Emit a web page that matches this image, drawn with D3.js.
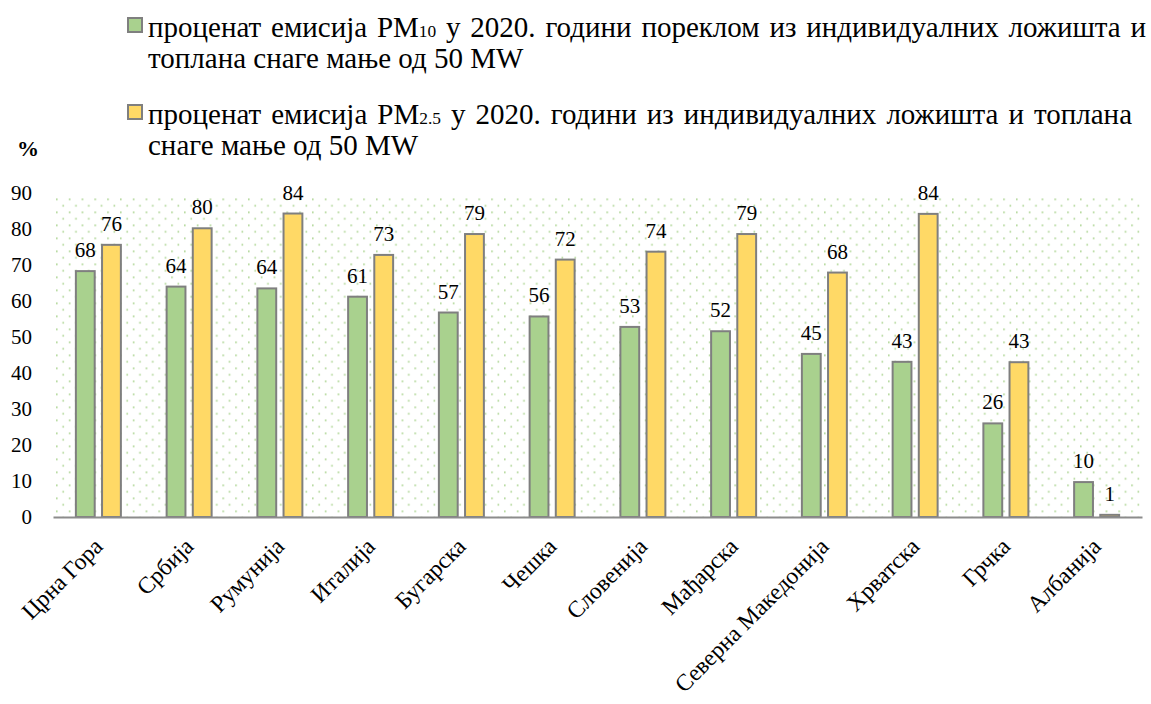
<!DOCTYPE html>
<html>
<head>
<meta charset="utf-8">
<script src="https://cdn.jsdelivr.net/npm/d3@7"></script>
<style>
  body { margin: 0; background: #fff; }
  svg { display: block; }
  text { font-family: "Liberation Serif", "Tinos", "DejaVu Serif", serif; fill: #000; }
</style>
</head>
<body>
<svg id="chart"></svg>
<script>
// values
const countries = ["Црна Гора", "Србија", "Румунија", "Италија", "Бугарска", "Чешка",
  "Словенија", "Мађарска", "Северна Македонија", "Хрватска", "Грчка", "Албанија"];
const pm10 = [68.3, 64.0, 63.5, 61.2, 56.8, 55.7, 52.8, 51.6, 45.3, 43.1, 26.0, 9.7];
const pm25 = [75.6, 80.2, 84.3, 72.8, 78.6, 71.5, 73.7, 78.6, 67.9, 84.2, 43.0, 0.6];
const seriesKeys = ["pm10", "pm25"];
const seriesColors = ["#a9d18e", "#ffd966"];
const legendLines = [
  ["проценат емисија PM{10} у 2020. години пореклом из индивидуалних ложишта и",
   "топлана снаге мање од 50 MW"],
  ["проценат емисија PM{2.5} у 2020. години из индивидуалних ложишта и топлана",
   "снаге мање од 50 MW"]
];
const yTicks = [0, 10, 20, 30, 40, 50, 60, 70, 80, 90];
const yLabel = "%";

const width = 1151, height = 704;
const plotLeft = 53, plotRight = 1142, plotTop = 193, plotBottom = 517;
const fontFamily = "'Liberation Serif', Tinos, 'DejaVu Serif', serif";

const data = countries.map((c, i) => ({country: c, pm10: pm10[i], pm25: pm25[i]}));

const svg = d3.select("#chart")
    .attr("width", width)
    .attr("height", height)
    .attr("viewBox", [0, 0, width, height])
    .style("font-family", fontFamily);

const x = d3.scaleBand(countries, [plotLeft, plotRight]);
const xs = d3.scaleBand(seriesKeys, [-22.5, 22.5]).paddingInner(0.28);
const y = d3.scaleLinear([0, 90], [plotBottom, plotTop]);
const color = d3.scaleOrdinal(seriesKeys, seriesColors);

// dotted plot background
const pat = svg.append("defs").append("pattern")
    .attr("id", "dots")
    .attr("patternUnits", "userSpaceOnUse")
    .attr("x", 56).attr("y", 198.5)
    .attr("width", 12.8).attr("height", 13);
pat.append("rect").attr("x", 0).attr("y", 0).attr("width", 1.6).attr("height", 1.6).attr("fill", "#a8d28c");
pat.append("rect").attr("x", 6.4).attr("y", 6.5).attr("width", 1.6).attr("height", 1.6).attr("fill", "#a8d28c");

svg.append("rect")
    .attr("x", 55).attr("y", 197)
    .attr("width", 1085).attr("height", plotBottom - 197)
    .attr("fill", "url(#dots)");

// y axis labels (no axis line)
svg.append("g")
    .attr("transform", `translate(32,0)`)
    .call(d3.axisLeft(y).tickValues(yTicks).tickSize(0).tickPadding(0))
    .attr("font-family", null)
    .call(g => g.select(".domain").remove())
    .call(g => g.selectAll("text")
        .attr("font-size", 21)
        .attr("fill", "#000"));

// bars
const groups = svg.append("g")
  .selectAll("g")
  .data(data)
  .join("g")
    .attr("transform", d => `translate(${x(d.country) + x.bandwidth() / 2},0)`);

groups.selectAll("rect")
  .data(d => seriesKeys.map(k => ({key: k, value: d[k]})))
  .join("rect")
    .attr("x", d => xs(d.key))
    .attr("y", d => y(d.value))
    .attr("width", xs.bandwidth())
    .attr("height", d => y(0) - y(d.value))
    .attr("fill", d => color(d.key))
    .attr("stroke", "#7f7f7f")
    .attr("stroke-width", 2);

groups.selectAll("text")
  .data(d => seriesKeys.map(k => ({key: k, value: d[k]})))
  .join("text")
    .attr("x", d => xs(d.key) + xs.bandwidth() / 2)
    .attr("y", d => y(d.value) - 14)
    .attr("text-anchor", "middle")
    .attr("font-size", 21)
    .text(d => Math.round(d.value));

// baseline
svg.append("g")
    .attr("transform", `translate(0,${plotBottom})`)
    .call(d3.axisBottom(x).tickSize(0).tickFormat(""))
    .call(g => g.select(".domain").attr("stroke", "#8c8c8c").attr("stroke-width", 2))
    .call(g => g.selectAll(".tick").remove());

// rotated category labels
svg.append("g")
  .selectAll("text")
  .data(countries)
  .join("text")
    .attr("transform", d => `translate(${x(d) + x.bandwidth() / 2},542) rotate(-45)`)
    .attr("text-anchor", "end")
    .attr("dy", "0.35em")
    .attr("font-size", 23.5)
    .text(d => d);

// y unit
svg.append("text")
    .attr("x", 17).attr("y", 156)
    .attr("font-size", 22)
    .attr("font-weight", "bold")
    .text(yLabel);

// legend, justified like the source text box
const legendFont = 29;
const legend = svg.append("g");
const lineY = [[37, 68], [124, 155]];
const boxY = [18, 105];

function wordText(g, word, yPos) {
  const t = g.append("text").attr("y", yPos).attr("font-size", legendFont);
  word.split(/(\{[^}]*\})/).filter(s => s).forEach(s => {
    if (s.startsWith("{")) t.append("tspan").attr("font-size", legendFont * 0.6).text(s.slice(1, -1));
    else t.append("tspan").text(s);
  });
  return t;
}

function drawLine(g, str, x0, x1, yPos, justify) {
  const words = str.split(" ");
  const nodes = words.map(w => wordText(g, w, yPos));
  const widths = nodes.map(t => t.node().getComputedTextLength());
  const gap = justify ? (x1 - x0 - d3.sum(widths)) / (words.length - 1) : legendFont * 0.25;
  let xPos = x0;
  nodes.forEach((t, i) => { t.attr("x", xPos); xPos += widths[i] + gap; });
}

const lineEnds = [1146, 1132];
legendLines.forEach((lines, i) => {
  legend.append("rect")
      .attr("x", 128).attr("y", boxY[i])
      .attr("width", 14).attr("height", 14)
      .attr("fill", seriesColors[i])
      .attr("stroke", "#7f7f7f")
      .attr("stroke-width", 2);
  lines.forEach((line, j) => {
    drawLine(legend, line, 148, lineEnds[i], lineY[i][j], j < lines.length - 1);
  });
});
</script>
</body>
</html>
